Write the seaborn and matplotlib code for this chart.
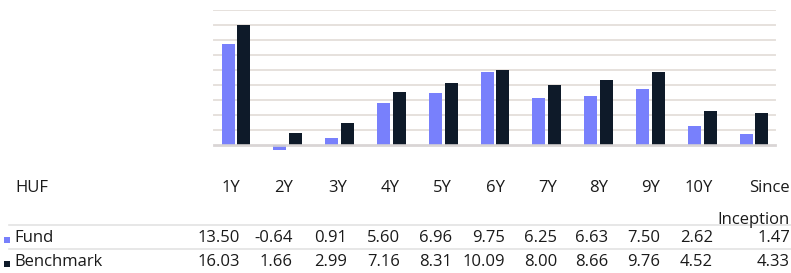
import matplotlib
matplotlib.use("Agg")
import matplotlib.pyplot as plt
import seaborn as sns
import pandas as pd
from matplotlib.lines import Line2D
from matplotlib.patches import Rectangle

categories = ['1Y', '2Y', '3Y', '4Y', '5Y', '6Y', '7Y', '8Y', '9Y', '10Y', 'Since\nInception']
fund = [13.50, -0.64, 0.91, 5.60, 6.96, 9.75, 6.25, 6.63, 7.50, 2.62, 1.47]
benchmark = [16.03, 1.66, 2.99, 7.16, 8.31, 10.09, 8.00, 8.66, 9.76, 4.52, 4.33]
series_names = ['Fund', 'Benchmark']
currency = 'HUF'

FUND_C = '#7880FC'
BENCH_C = '#0E1A29'
TEXT_C = '#1A1A1A'

W, H = 791, 273
fig = plt.figure(figsize=(W / 100, H / 100), dpi=100)
plt.rcParams['font.family'] = ['Open Sans', 'DejaVu Sans']

def fx(px):
    return px / W

def fy(py):
    return 1 - py / H

# axes: x from 210 to 780 px, y: ylim 18 at 10.3px, 0 at 145.3 -> 7.5 px/unit
ymax, ymin = 18, -1.2
top_px = 10.3
bot_px = 145.3 + 7.5 * (-ymin)
ax = fig.add_axes([fx(210), fy(bot_px), fx(780) - fx(210), (bot_px - top_px) / H])

df = pd.DataFrame({
    'cat': categories * 2,
    'series': [series_names[0]] * len(fund) + [series_names[1]] * len(benchmark),
    'value': fund + benchmark,
})
sns.barplot(data=df, x='cat', y='value', hue='series', order=categories,
            hue_order=series_names, palette=[FUND_C, BENCH_C],
            width=0.604, gap=0.17, ax=ax, legend=False, zorder=3,
            linewidth=0, saturation=1)

ax.set_ylim(ymin, ymax)
ax.set_xlim(-0.5, len(categories) - 0.5)
xmin_f = (214 - 210) / 570
xmax_f = (775 - 210) / 570
for t in range(2, 19, 2):
    ax.axhline(t, xmin=xmin_f, xmax=xmax_f, color='#E6E1DD', lw=1.4, zorder=1)
ax.axhline(0, xmin=xmin_f, xmax=xmax_f, color='#D5D1D1', lw=2.0, zorder=4, alpha=0.9)
for s in ax.spines.values():
    s.set_visible(False)
ax.set_xticks([])
ax.set_yticks([])
ax.set_xlabel('')
ax.set_ylabel('')
ax.patch.set_alpha(0)

# table
fs = 12
col_right = [240, 293, 347, 400, 452, 505, 557, 608, 660, 713, 790]
fig.text(fx(15), fy(188), currency, ha='left', va='center', fontsize=fs, color=TEXT_C)
for cat, xr in zip(categories, col_right):
    lines = cat.split('\n')
    for i, ln in enumerate(lines):
        fig.text(fx(xr), fy(188 + i * 32), ln, ha='right', va='center', fontsize=fs, color=TEXT_C)

row_y = [238, 262]
for name, vals, c, yy in zip(series_names, [fund, benchmark], [FUND_C, BENCH_C], row_y):
    fig.patches.append(Rectangle((fx(4), fy(yy + 5)), fx(6), 6 / H, transform=fig.transFigure,
                                 facecolor=c, edgecolor='none'))
    fig.text(fx(14), fy(yy), name, ha='left', va='center', fontsize=fs, color=TEXT_C)
    for v, xr in zip(vals, col_right):
        fig.text(fx(xr), fy(yy), f'{v:.2f}', ha='right', va='center', fontsize=fs, color=TEXT_C)

for ly in [225.3, 249.3]:
    fig.add_artist(Line2D([fx(9), fx(791)], [fy(ly), fy(ly)], transform=fig.transFigure,
                          color='#E3E3E3', lw=1.2))

fig.savefig('out.png', dpi=100)
